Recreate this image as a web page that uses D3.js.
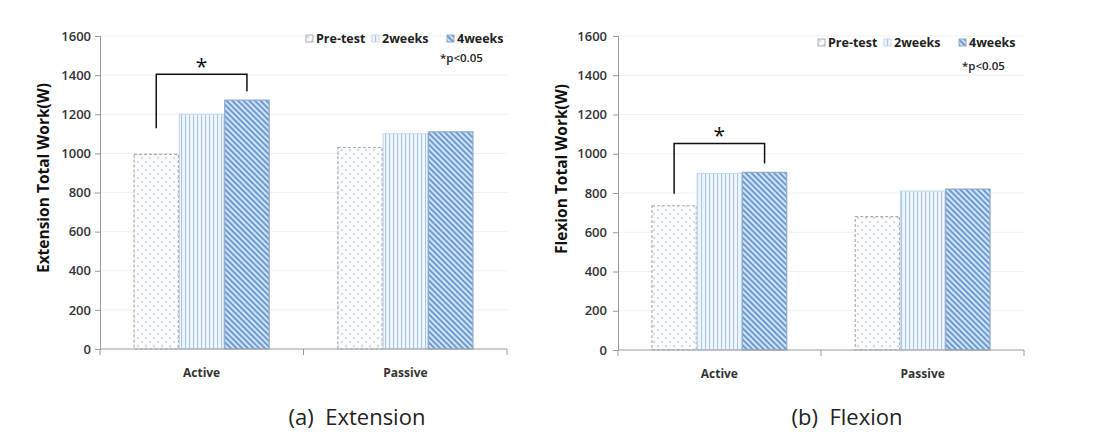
<!DOCTYPE html>
<html><head><meta charset="utf-8">
<script src="https://cdn.jsdelivr.net/npm/d3@7"></script>
<style>body{margin:0;background:#fff}svg{display:block}</style>
</head><body>
<svg id="c" width="1101" height="442"></svg>
<script>
const categories = ["Active", "Passive"];
const seriesNames = ["Pre-test", "2weeks", "4weeks"];
const yTicks = [0, 200, 400, 600, 800, 1000, 1200, 1400, 1600];
const extensionPre = [995, 1030];
const extension2w = [1200, 1100];
const extension4w = [1272, 1110];
const flexionPre = [735, 680];
const flexion2w = [900, 810];
const flexion4w = [905, 820];
const extensionSig = {from: "Active", a: 0, b: 2, label: "*"};
const flexionSig = {from: "Active", a: 0, b: 2, label: "*"};

const svg = d3.select("#c");
const defs = svg.append("defs");
// patterns
const p0 = defs.append("pattern").attr("id","pPre").attr("patternUnits","userSpaceOnUse").attr("width",8).attr("height",8);
p0.append("rect").attr("width",8).attr("height",8).attr("fill","#fbfcfe");
p0.append("circle").attr("cx",2).attr("cy",2).attr("r",1.2).attr("fill","#d6dae2");
p0.append("circle").attr("cx",6).attr("cy",6).attr("r",1.2).attr("fill","#d6dae2");
const p1 = defs.append("pattern").attr("id","p2w").attr("patternUnits","userSpaceOnUse").attr("width",4).attr("height",4);
p1.append("rect").attr("width",4).attr("height",4).attr("fill","#f0f6fd");
p1.append("rect").attr("x",1).attr("width",1.1).attr("height",4).attr("fill","#a6c7e8");
const p2 = defs.append("pattern").attr("id","p4w").attr("patternUnits","userSpaceOnUse").attr("width",4).attr("height",4).attr("patternTransform","rotate(-45)");
p2.append("rect").attr("width",4).attr("height",4).attr("fill","#d3e4f5");
p2.append("rect").attr("x",0).attr("width",2).attr("height",4).attr("fill","#6c9bd2");
const fills = ["url(#pPre)","url(#p2w)","url(#p4w)"];
const strokes = ["#a9acb3","#c8d9ec","#8fa9c8"];

const font = "'Open Sans','Noto Sans',sans-serif";

function panel(cfg){
  const g = svg.append("g");
  const y = d3.scaleLinear().domain([0,1600]).range([cfg.y0, cfg.y1]);
  const x0 = d3.scaleBand().domain(categories).range([cfg.xl, cfg.xr]).paddingInner(0.337).paddingOuter(0.167);
  const x1 = d3.scaleBand().domain(seriesNames).range([0, x0.bandwidth()]).paddingInner(0.02);
  // grid
  g.append("g").selectAll("line").data(yTicks.slice(1)).join("line")
    .attr("x1",cfg.xl).attr("x2",cfg.xr).attr("y1",d=>y(d)).attr("y2",d=>y(d))
    .attr("stroke","#f0f0f0").attr("stroke-width",1);
  const data = [cfg.pre, cfg.w2, cfg.w4];
  seriesNames.forEach((s,si)=>{
    g.append("g").selectAll("rect").data(categories).join("rect")
      .attr("x",(c)=>x0(c)+x1(s)).attr("width",x1.bandwidth())
      .attr("y",(c,i)=>y(data[si][i])).attr("height",(c,i)=>y(0)-y(data[si][i]))
      .attr("fill",fills[si]).attr("stroke",strokes[si]).attr("stroke-width",1.2)
      .attr("stroke-dasharray", si===0 ? "3,2" : null);
  });
  // y axis
  const ya = d3.axisLeft(y).tickValues(yTicks).tickFormat(d3.format("d")).tickSize(5).tickPadding(cfg.tickPad);
  const yg = g.append("g").attr("transform",`translate(${cfg.xl},0)`).call(ya);
  yg.select(".domain").attr("stroke","#999");
  yg.selectAll(".tick line").attr("stroke","#999");
  yg.selectAll("text").attr("font-family",font).attr("font-size",13).attr("font-weight","600").attr("fill","#333");
  // x axis
  const xg = g.append("g").attr("transform",`translate(0,${cfg.y0})`);
  xg.append("line").attr("x1",cfg.xl).attr("x2",cfg.xr).attr("stroke","#999");
  const bounds = [cfg.xl, (x0("Active")+x0.bandwidth()+x0("Passive"))/2, cfg.xr];
  xg.selectAll(".tk").data(bounds).join("line").attr("x1",d=>d).attr("x2",d=>d).attr("y1",0).attr("y2",6).attr("stroke","#999");
  xg.selectAll("text").data(categories).join("text")
    .attr("x",c=>x0(c)+x0.bandwidth()/2).attr("y",28).attr("text-anchor","middle")
    .attr("font-family",font).attr("font-size",12).attr("font-weight","bold").attr("fill","#333").text(c=>c);
  // y label
  g.append("text").attr("transform",`translate(${cfg.labelX},${cfg.labelY}) rotate(-90)`)
    .attr("text-anchor","middle").attr("font-family",font).attr("font-size",15.5).attr("font-weight","bold")
    .attr("fill","#111").text(cfg.ylabel);
  // significance bracket
  const ci = categories.indexOf(cfg.sig.from);
  const xa = x0(cfg.sig.from)+x1(seriesNames[cfg.sig.a])+x1.bandwidth()/2;
  const xb = x0(cfg.sig.from)+x1(seriesNames[cfg.sig.b])+x1.bandwidth()/2;
  const top = y(data[cfg.sig.b][ci]) - cfg.bracketGap;
  g.append("path").attr("d",`M${xa},${y(data[cfg.sig.a][ci]) - cfg.leftGap} V${top} H${xb} V${y(data[cfg.sig.b][ci])-9}`)
    .attr("fill","none").attr("stroke","#111").attr("stroke-width",1.5);
  g.append("text").attr("x",(xa+xb)/2).attr("y",top-0).attr("text-anchor","middle")
    .attr("font-family",font).attr("font-size",21).attr("fill","#111").text(cfg.sig.label);
  // legend
  const lg = g.append("g").attr("transform",`translate(${cfg.legX},${cfg.legY})`);
  const offs = [0, 66, 141];
  seriesNames.forEach((s,i)=>{
    lg.append("rect").attr("x",offs[i]).attr("y",-8).attr("width",7).attr("height",7)
      .attr("fill",fills[i]).attr("stroke",strokes[i]);
    lg.append("text").attr("x",offs[i]+10).attr("y",0).attr("font-family",font).attr("font-size",12.5)
      .attr("font-weight","bold").attr("fill","#222").text(s);
  });
  g.append("text").attr("x",cfg.pX).attr("y",cfg.pY).attr("font-family",font).attr("font-size",11.5)
    .attr("font-weight","600").attr("fill","#222").text("*p<0.05");
  // caption
  g.append("text").attr("x",cfg.capX).attr("y",425).attr("text-anchor","middle")
    .attr("font-family",font).attr("font-size",22).attr("fill","#222").attr("xml:space","preserve").text(cfg.caption);
}

panel({xl:100, xr:507, y0:349, y1:36, pre:extensionPre, w2:extension2w, w4:extension4w,
  ylabel:"Extension Total Work(W)", labelX:49, labelY:178, tickPad:4, sig:extensionSig, bracketGap:26, leftGap:26,
  legX:306, legY:43, pX:440, pY:62, capX:357, caption:"(a)  Extension"});
panel({xl:618, xr:1024, y0:350, y1:36, pre:flexionPre, w2:flexion2w, w4:flexion4w,
  ylabel:"Flexion Total Work(W)", labelX:567, labelY:169, tickPad:6, sig:flexionSig, bracketGap:29, leftGap:12,
  legX:818, legY:47, pX:962, pY:70, capX:847, caption:"(b)  Flexion"});
</script>
</body></html>
